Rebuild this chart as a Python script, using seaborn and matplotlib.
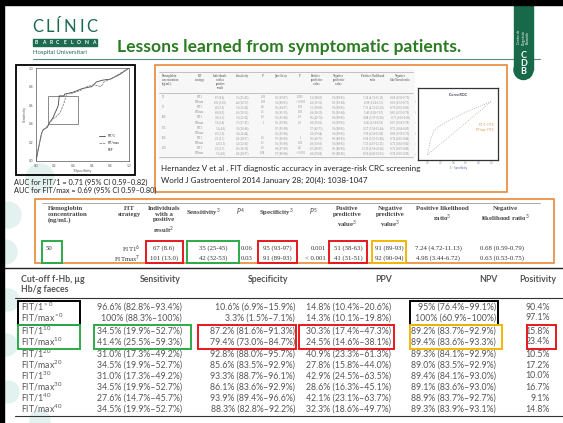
import matplotlib
matplotlib.use("Agg")
import matplotlib.pyplot as plt
import seaborn as sns
import pandas as pd
from matplotlib.patches import Rectangle, Ellipse
from matplotlib.lines import Line2D

# ---------------- data ----------------
title = "Lessons learned from symptomatic patients."

roc_fit1_fpr = [0, 0.02, 0.04, 0.06, 0.08, 0.12, 0.15, 0.18, 0.22, 0.24, 0.25, 0.30, 0.31, 0.40, 0.50, 0.60, 0.65, 0.72, 0.80, 0.90, 1.0]
roc_fit1_tpr = [0, 0.10, 0.20, 0.30, 0.34, 0.36, 0.42, 0.46, 0.55, 0.60, 0.70, 0.70, 0.72, 0.74, 0.78, 0.80, 0.85, 0.87, 0.88, 0.93, 1.0]
roc_max_fpr = [0, 0.02, 0.05, 0.07, 0.10, 0.14, 0.18, 0.22, 0.26, 0.30, 0.33, 0.40, 0.48, 0.55, 0.62, 0.70, 0.73, 0.80, 0.90, 1.0]
roc_max_tpr = [0, 0.12, 0.25, 0.33, 0.35, 0.40, 0.45, 0.48, 0.52, 0.62, 0.72, 0.73, 0.76, 0.80, 0.82, 0.80, 0.85, 0.88, 0.94, 1.0]
auc_lines = ["AUC for FIT/1 = 0.71 (95% CI 0.59\u20130.82)",
             "AUC for FIT/max = 0.69 (95% CI 0.59\u20130.80)"]

mini_x = [0, 0.05, 0.1, 0.2, 0.3, 0.4, 0.5, 0.6, 0.7, 0.8, 0.9, 1.0]
mini_y = [0, 0.30, 0.45, 0.55, 0.62, 0.68, 0.74, 0.80, 0.85, 0.90, 0.95, 1.0]

cite_lines = ["Hernandez V et al . FIT diagnostic accuracy in average-risk CRC screening",
              "World J Gastroenterol 2014 January 28; 20(4): 1038-1047"]

small_headers = ["Hemoglobin\nconcentration\n(ng/mL)", "FIT\nstrategy", "Individuals\nwith a\npositive\nresult", "Sensitivity",
                 "P", "Specificity", "P", "Positive\npredictive\nvalue", "Negative\npredictive\nvalue",
                 "Positive likelihood\nratio", "Negative\nlikelihood ratio"]
small_conc = ["50", "", "75", "", "100", "", "125", "", "150", "", "200", ""]
small_strat = ["FIT1", "FITmax"] * 6
small_pos = ["67 (8.6)", "101 (13.0)", "46 (5.9)", "69 (8.9)", "39 (5.0)", "53 (6.8)", "31 (4.0)", "45 (5.8)", "29 (3.7)", "41 (5.3)", "21 (2.7)", "31 (4.0)"]
small_sens = ["35 (25-45)", "42 (32-53)", "33 (23-43)", "40 (30-51)", "33 (22-43)", "37 (27-47)", "30 (20-40)", "34 (24-44)", "28 (18-37)", "32 (22-43)", "26 (16-35)", "28 (18-37)"]
small_p1 = ["0.06", "0.03", "0.2", "0.1", "0.5", "1", "", "", "0.5", "0.1", "0.5", "0.08"]
small_spec = ["95 (93-97)", "91 (89-93)", "96 (94-97)", "93 (91-95)", "96 (95-98)", "95 (93-96)", "97 (95-98)", "96 (95-98)", "97 (96-99)", "96 (95-98)", "98 (97-99)", "97 (96-98)"]
small_p2 = ["0.001", "< 0.001", "0.01", "0.03", "0.3", "0.3", "", "", "1", "0.06", "0.2", "< 0.001"]
small_ppv = ["51 (38-63)", "41 (31-51)", "52 (39-66)", "48 (36-59)", "56 (42-70)", "48 (35-62)", "57 (42-73)", "49 (35-64)", "56 (40-73)", "48 (33-63)", "67 (46-87)", "48 (30-66)"]
small_npv = ["91 (89-93)", "92 (90-94)", "91 (89-93)", "92 (89-94)", "91 (89-93)", "91 (89-93)", "91 (88-93)", "91 (89-93)", "90 (88-93)", "91 (88-93)", "90 (88-93)", "90 (88-92)"]
small_plr = ["7.24 (4.72-11.13)", "4.98 (3.44-6.72)", "7.76 (4.72-12.20)", "5.40 (3.82-7.67)", "9.88 (5.57-16.00)", "6.86 (4.74-9.93)",
             "9.27 (5.56-15.44)", "7.09 (4.54-11.08)", "9.94 (5.55-15.80)", "7.55 (4.67-12.21)", "13.33 (6.58-26.60)", "8.50 (4.81-15.03)"]
small_nlr = ["0.68 (0.59-0.79)", "0.63 (0.53-0.75)", "0.70 (0.61-0.81)", "0.65 (0.55-0.76)", "0.71 (0.61-0.81)", "0.67 (0.58-0.78)",
             "0.72 (0.64-0.83)", "0.69 (0.59-0.79)", "0.74 (0.65-0.84)", "0.72 (0.62-0.82)", "0.76 (0.67-0.86)", "0.74 (0.65-0.85)"]

mid_headers = ["Hemoglobin\nconcentration\n(ng/mL)", "FIT\nstrategy", "Individuals\nwith a\npositive\nresult$^2$", "Sensitivity$^3$",
               "$P^4$", "Specificity$^3$", "$P^5$", "Positive\npredictive\nvalue$^3$", "Negative\npredictive\nvalue$^3$",
               "Positive likelihood\nratio$^3$", "Negative\nlikelihood ratio$^3$"]
mid_conc = "50"
mid_strat = ["FIT1$^6$", "FITmax$^7$"]
mid_pos = ["67 (8.6)", "101 (13.0)"]
mid_sens = ["35 (25-45)", "42 (32-53)"]
mid_p1 = ["0.06", "0.03"]
mid_spec = ["95 (93-97)", "91 (89-93)"]
mid_p2 = ["0.001", "< 0.001"]
mid_ppv = ["51 (38-63)", "41 (31-51)"]
mid_npv = ["91 (89-93)", "92 (90-94)"]
mid_plr = ["7.24 (4.72-11.13)", "4.98 (3.44-6.72)"]
mid_nlr = ["0.68 (0.59-0.79)", "0.63 (0.53-0.75)"]

bot_headers = ["Sensitivity", "Specificity", "PPV", "NPV", "Positivity"]
bot_labels = ["FIT/1$^{>0}$", "FIT/max$^{>0}$", "FIT/1$^{10}$", "FIT/max$^{10}$", "FIT/1$^{20}$", "FIT/max$^{20}$",
              "FIT/1$^{30}$", "FIT/max$^{30}$", "FIT/1$^{40}$", "FIT/max$^{40}$"]
bot_sens = ["96.6% (82.8%\u201393.4%)", "100% (88.3%\u2013100%)", "34.5% (19.9%\u201352.7%)", "41.4% (25.5%\u201359.3%)",
            "31.0% (17.3%\u201349.2%)", "34.5% (19.9%\u201352.7%)", "31.0% (17.3%\u201349.2%)", "34.5% (19.9%\u201352.7%)",
            "27.6% (14.7%\u201345.7%)", "34.5% (19.9%\u201352.7%)"]
bot_spec = ["10.6% (6.9%\u201315.9%)", "3.3% (1.5%\u20137.1%)", "87.2% (81.6%\u201391.3%)", "79.4% (73.0%\u201384.7%)",
            "92.8% (88.0%\u201395.7%)", "85.6% (83.5%\u201392.9%)", "93.3% (88.7%\u201396.1%)", "86.1% (83.6%\u201392.9%)",
            "93.9% (89.4%\u201396.6%)", "88.3% (82.8%\u201392.2%)"]
bot_ppv = ["14.8% (10.4%\u201320.6%)", "14.3% (10.1%\u201319.8%)", "30.3% (17.4%\u201347.3%)", "24.5% (14.6%\u201338.1%)",
           "40.9% (23.3%\u201361.3%)", "27.8% (15.8%\u201344.0%)", "42.9% (24.5%\u201363.5%)", "28.6% (16.3%\u201345.1%)",
           "42.1% (23.1%\u201363.7%)", "32.3% (18.6%\u201349.7%)"]
bot_npv = ["95% (76.4%\u201399.1%)", "100% (60.9%\u2013100%)", "89.2% (83.7%\u201392.9%)", "89.4% (83.6%\u201393.3%)",
           "89.3% (84.1%\u201392.9%)", "89.0% (83.5%\u201392.9%)", "89.4% (84.1%\u201393.0%)", "89.1% (83.6%\u201393.0%)",
           "88.9% (83.7%\u201392.7%)", "89.3% (83.9%\u201393.1%)"]
bot_positivity = ["90.4%", "97.1%", "15.8%", "23.4%", "10.5%", "17.2%", "10.0%", "16.7%", "9.1%", "14.8%"]

# ---------------- style ----------------
sns.set_theme(style="white")
plt.rcParams["font.family"] = ["Lato", "DejaVu Sans"]
plt.rcParams["mathtext.fontset"] = "custom"
plt.rcParams["mathtext.rm"] = "Lato"
plt.rcParams["mathtext.it"] = "Lato:italic"
plt.rcParams["mathtext.bf"] = "Lato:bold"

W, H = 563, 423
fig = plt.figure(figsize=(W / 100, H / 100), dpi=100)
fig.patch.set_facecolor("white")

def fx(x): return x / W
def fy(y): return 1 - y / H
def T(x, y, s, **kw):
    kw.setdefault("va", "center")
    return fig.text(fx(x), fy(y), s, **kw)
def R(x0, y0, x1, y1, **kw):
    fig.add_artist(Rectangle((fx(x0), fy(y1)), (x1 - x0) / W, (y1 - y0) / H,
                             transform=fig.transFigure, **kw))
def L(x0, y0, x1, y1, **kw):
    fig.add_artist(Line2D([fx(x0), fx(x1)], [fy(y0), fy(y1)], transform=fig.transFigure, **kw))

GREEN_LOGO = "#1d6b50"
GREEN_TITLE = "#2b7b22"
ORANGE = "#e8893a"
RED = "#e8191c"
BOXGREEN = "#2eaa4a"
YELLOW = "#f2b705"
GRAY = "#555555"

# decorative faint circles
for cx, cy, r in [(40, 178, 14), (8, 215, 13), (5, 252, 12), (8, 300, 11), (6, 345, 11), (8, 392, 11), (40, 420, 10)]:
    fig.add_artist(Ellipse((fx(cx), fy(cy)), 2 * r / W, 2 * r / H, transform=fig.transFigure,
                           color="#e4f2ef", zorder=0))

# frame bars
R(0, 0, W, 5, color="black", zorder=5)
R(0, 0, 4, H, color="black", zorder=5)

# logo
for ch, cx in zip("CLÍNIC", [37.5, 50, 58.5, 69.5, 81.5, 92]):
    T(cx, 27, ch, color=GREEN_LOGO, fontsize=12, ha="center", fontweight="normal")
R(33, 39, 97, 46, color=GREEN_LOGO)
for i, ch in enumerate("BARCELONA"):
    T(36.5 + i * 7.1, 42.6, ch, color="white", fontsize=3.6, ha="center", fontweight="bold")
T(33, 52.5, "Hospital Universitari", color=GREEN_LOGO, fontsize=4.3, ha="left")

# title
T(117, 47, title, color=GREEN_TITLE, fontsize=12.6, fontweight="bold", ha="left")
L(33, 59.5, 540, 59.5, color="#5d8f78", lw=0.8)

# CDB tab
R(514, 5, 533, 70, color="#17694a", zorder=3)
fig.add_artist(Ellipse((fx(523.5), fy(70)), 19 / W, 19 / H, transform=fig.transFigure, color="#17694a", zorder=3))
T(523.5, 37, "Centre de\nDiagnòstic\nBiomèdic", color="white", fontsize=2.3, rotation=90, ha="center", zorder=4)
for i, ch in enumerate("CDB"):
    T(523.5, 55 + i * 8, ch, color="white", fontsize=6.5, fontweight="bold", ha="center", zorder=4)

# ---------------- ROC panel ----------------
R(16, 65, 135, 175, fill=False, edgecolor="black", lw=1.3)
ax = fig.add_axes([fx(36), fy(161), 93 / W, 93 / H])
roc_df = pd.concat([
    pd.DataFrame({"fpr": roc_fit1_fpr, "tpr": roc_fit1_tpr, "strategy": "FIT/1"}),
    pd.DataFrame({"fpr": roc_max_fpr, "tpr": roc_max_tpr, "strategy": "FIT/max"}),
])
sns.lineplot(data=roc_df, x="fpr", y="tpr", hue="strategy", style="strategy",
             palette=["#444444", "#888888"], dashes=[(None, None), (3, 1)], lw=0.6,
             sort=False, estimator=None, ax=ax, legend=False)
ax.add_patch(Rectangle((0.13, 0.40), 0.32, 0.30, fill=False, edgecolor="#777777", lw=0.6))
ax.set_xlim(0, 1); ax.set_ylim(0, 1)
ax.set_xticks([0, 0.2, 0.4, 0.6, 0.8, 1.0]); ax.set_yticks([0, 0.2, 0.4, 0.6, 0.8, 1.0])
ax.tick_params(labelsize=2.3, length=1, width=0.3, pad=1, colors="#555555")
ax.set_xlabel("1-Specificity", fontsize=2.5, labelpad=1, color="#555555")
ax.set_ylabel("Sensitivity", fontsize=2.5, labelpad=1, color="#555555")
for sp in ax.spines.values():
    sp.set_linewidth(0.5); sp.set_color("#555555")
leg_h = [Line2D([], [], color="#444444", lw=0.6), Line2D([], [], color="#888888", lw=0.6, ls=(0, (3, 1))),
         Line2D([], [], color="white", lw=0.6)]
ax.legend(leg_h, ["FIT/1", "FIT/max", "REF"], fontsize=2.3, loc="lower right", frameon=False,
          handlelength=2, borderaxespad=2.5, labelspacing=0.9)
T(14, 182, auc_lines[0], fontsize=5.3, ha="left", color="#222222")
T(14, 190.5, auc_lines[1], fontsize=5.3, ha="left", color="#222222")

# ---------------- orange box 1 ----------------
R(155, 65, 507, 192, fill=False, edgecolor=ORANGE, lw=1.2)
R(158, 69, 414, 159, color="#f7f7f7", zorder=1)
L(159, 72, 413, 72, color="#999999", lw=0.4)
L(159, 93, 413, 93, color="#999999", lw=0.4)
L(159, 157, 413, 157, color="#999999", lw=0.4)
s_cols = [(162, "left"), (200, "center"), (220, "center"), (242, "center"), (263, "center"), (281, "center"),
          (300, "center"), (316, "center"), (338, "center"), (373, "center"), (400, "center")]
for (cx, ha), htxt in zip(s_cols, small_headers):
    T(cx, 74, htxt, fontsize=2.1, ha=ha, va="top", color="#777777", fontweight="bold", family="Liberation Serif",
      linespacing=1.0)
small_cols = [small_conc, small_strat, small_pos, small_sens, small_p1, small_spec, small_p2, small_ppv, small_npv, small_plr, small_nlr]
for i in range(12):
    yy = 97 + i * 5.1
    for (cx, ha), col in zip(s_cols, small_cols):
        T(cx, yy, col[i], fontsize=2.1, ha=ha, color="#888888", family="Liberation Serif")

# mini chart
ax2 = fig.add_axes([fx(418), fy(160), 80 / W, 72 / H])
mini_df = pd.concat([
    pd.DataFrame({"x": mini_x, "y": mini_y, "s": "FIT/1 - FIT/max"}),
    pd.DataFrame({"x": [0, 1], "y": [0, 1], "s": "Reference"}),
])
sns.lineplot(data=mini_df, x="x", y="y", hue="s", palette=["#9aa4b8", "#b0b0b0"], lw=0.6,
             ax=ax2, legend=False, linestyle=":", sort=False, estimator=None)
ax2.set_xlim(-0.15, 1.1); ax2.set_ylim(-0.1, 1.25)
ax2.set_xticks([0, 0.2, 0.4, 0.6, 0.8, 1.0]); ax2.set_yticks([0, 0.2, 0.4, 0.6, 0.8, 1.0])
ax2.tick_params(labelsize=1.8, length=0.5, width=0.3, pad=0.5, colors="#8a90a8")
ax2.set_xlabel("1 - Specificity", fontsize=2, labelpad=0.5, color="#5060a0")
ax2.set_ylabel("Sensitivity", fontsize=2, labelpad=0.5, color="#5060a0")
ax2.set_title("Curva ROC", fontsize=2.6, pad=-6, color="#334", fontweight="bold")
for sp in ax2.spines.values():
    sp.set_linewidth(0.9); sp.set_color("#333333")
ax2.text(0.95, 0.45, "FIT/1 - FIT %\nFIT/max - FIT %", fontsize=1.8, ha="right", va="center",
         color="#d08a40", transform=ax2.transAxes)

T(161, 168, cite_lines[0], fontsize=5.8, ha="left", color="#222222")
T(161, 180, cite_lines[1], fontsize=5.8, ha="left", color="#222222")

# ---------------- orange box 2 ----------------
R(35, 199, 554, 263, fill=False, edgecolor=ORANGE, lw=1.2)
L(42, 203, 540, 203, color="#888888", lw=0.5)
m_cols = [(48, "left"), (129, "center"), (164, "center"), (203, "center"), (241, "center"), (276, "center"),
          (313, "center"), (347, "center"), (390, "center"), (442, "center"), (505, "center")]
for (cx, ha), htxt in zip(m_cols, mid_headers):
    T(cx, 206, htxt, fontsize=4.9, ha=ha, va="top", color="#444444", fontweight="bold",
      family="Liberation Serif", linespacing=1.15)
mid_rows_y = [248, 258]
T(46, 248, mid_conc, fontsize=4.9, ha="left", color="#333333", family="Liberation Serif")
for j, yy in enumerate(mid_rows_y):
    T(140, yy, mid_strat[j], fontsize=4.9, ha="right", color="#333333", family="Liberation Serif")
    T(164, yy, mid_pos[j], fontsize=4.9, ha="center", color="#333333", family="Liberation Serif")
    T(213, yy, mid_sens[j], fontsize=4.9, ha="center", color="#333333", family="Liberation Serif")
    T(253, yy, mid_p1[j], fontsize=4.9, ha="right", color="#333333", family="Liberation Serif")
    T(277, yy, mid_spec[j], fontsize=4.9, ha="center", color="#333333", family="Liberation Serif")
    T(326, yy, mid_p2[j], fontsize=4.9, ha="right", color="#333333", family="Liberation Serif")
    T(348, yy, mid_ppv[j], fontsize=4.9, ha="center", color="#333333", family="Liberation Serif")
    T(389, yy, mid_npv[j], fontsize=4.9, ha="center", color="#333333", family="Liberation Serif")
    T(438, yy, mid_plr[j], fontsize=4.9, ha="center", color="#333333", family="Liberation Serif")
    T(502, yy, mid_nlr[j], fontsize=4.9, ha="center", color="#333333", family="Liberation Serif")
box_kw = dict(fill=False, lw=1.4, zorder=4)
R(42, 241, 62, 263, edgecolor=BOXGREEN, **box_kw)
R(146, 241, 183, 263, edgecolor=RED, **box_kw)
R(187, 241, 239, 263, edgecolor=BOXGREEN, **box_kw)
R(258, 241, 297, 263, edgecolor=RED, **box_kw)
R(329, 241, 367, 263, edgecolor=RED, **box_kw)
R(372, 241, 406, 263, edgecolor=YELLOW, **box_kw)

# ---------------- bottom table ----------------
L(4, 268, W, 268, color="#222222", lw=1.0)
T(21, 279, "Cut-off f-Hb, \u00b5g", fontsize=6.3, ha="left", color=GRAY, fontweight="bold")
T(21, 290, "Hb/g faeces", fontsize=6.3, ha="left", color=GRAY, fontweight="bold")
head_x = [181, 288, 392, 498, 556]
for hx, htxt in zip(head_x, bot_headers):
    T(hx, 279, htxt, fontsize=6.3, ha="right", color=GRAY, fontweight="bold")
L(15, 298, W, 298, color="#333333", lw=0.8)
rows_y = [307, 318, 331, 342, 354, 365, 376, 387, 398, 409]
col_right = [182, 295, 391, 496, 550]
for i, yy in enumerate(rows_y):
    T(21, yy, bot_labels[i], fontsize=6.3, ha="left", color=GRAY)
    for cx, col in zip(col_right, [bot_sens, bot_spec, bot_ppv, bot_npv, bot_positivity]):
        T(cx, yy, col[i], fontsize=6.3, ha="right", color=GRAY)
L(15, 416, W, 416, color="#333333", lw=0.8)

R(18, 300.5, 80, 324.5, edgecolor="black", **box_kw)
R(410, 300.5, 498, 324.5, edgecolor="black", **box_kw)
R(18, 325, 80, 349, edgecolor=BOXGREEN, **box_kw)
R(94, 325, 191, 349, edgecolor=BOXGREEN, **box_kw)
R(198, 325, 296, 349, edgecolor=RED, **box_kw)
R(299, 325, 394, 349, edgecolor=RED, **box_kw)
R(410, 325, 502, 349, edgecolor=YELLOW, **box_kw)
R(527, 325, 556, 349, edgecolor=RED, **box_kw)

fig.savefig("out.png", dpi=100, facecolor="white")
